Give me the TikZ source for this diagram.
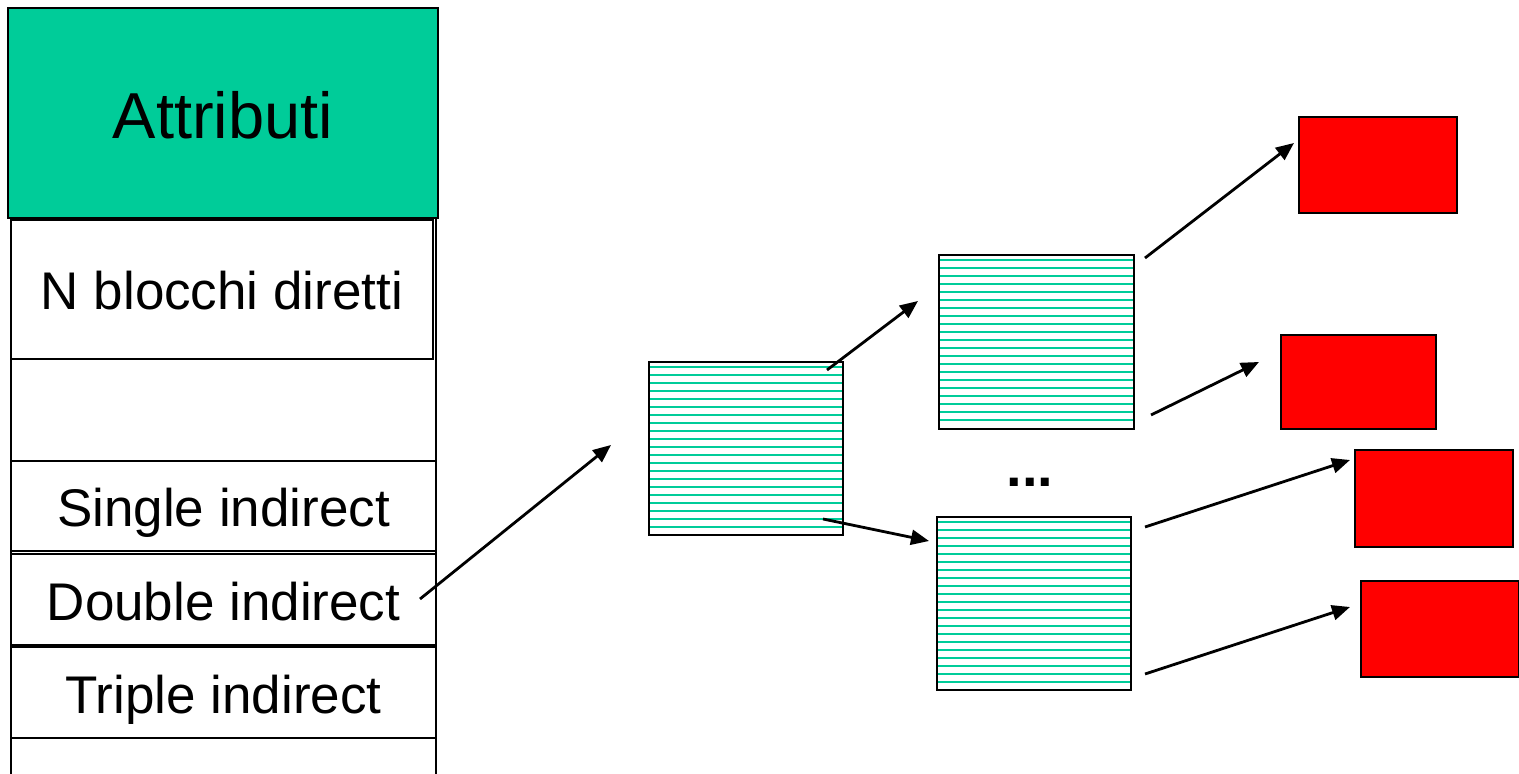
\documentclass[tikz,border=0pt]{standalone}
\usepackage{fontspec}
\setmainfont{Liberation Sans}
\usetikzlibrary{arrows.meta}
\definecolor{attrgreen}{HTML}{00CC99}
\definecolor{blockred}{HTML}{FF0000}
\begin{document}
\begin{tikzpicture}[x=0.5pt,y=-0.5pt,
  cell/.style={draw=black,line width=1pt,inner sep=0pt,fill=white,
    font=\fontsize{26.5}{30}\selectfont,text height=25.8pt,text depth=5.3pt},
  attr/.style={cell,fill=attrgreen,font=\fontsize{32.5}{38}\selectfont,
    text height=31.6pt,text depth=6.5pt},
  colline/.style={draw=black,line width=1pt},
  hatched/.style={draw=black,line width=1pt,fill=white,inner sep=0pt,
    path picture={\foreach \i in {0,...,20}{
      \draw[attrgreen,line width=1.1pt]
        ([yshift={-(2.5+4*\i)*1pt}]path picture bounding box.north west) --
        ([yshift={-(2.5+4*\i)*1pt}]path picture bounding box.north east);}}},
  redbox/.style={draw=black,line width=1pt,fill=blockred,inner sep=0pt},
  ptr/.style={draw=black,line width=1.4pt,-{Triangle[length=9pt,width=7.5pt]}},
  dotsfont/.style={inner sep=0pt,font=\fontsize{28}{32}\selectfont\bfseries}
]
\useasboundingbox (0,0) rectangle (1519,774);

% column outline
\draw[colline] (11,218) -- (11,774);
\draw[colline] (436,218) -- (436,774);

% left column cells
\node[attr,minimum width=215pt,minimum height=105pt] (attr) at (223,113) {Attributi};
\node[cell,minimum width=211pt,minimum height=69.5pt] (direct) at (222,289.5) {N blocchi diretti};
\node[cell,minimum width=212.5pt,minimum height=45pt] (single) at (223.5,506) {Single indirect};
\node[cell,minimum width=212.5pt,minimum height=45.5pt] (double) at (223.5,599.5) {Double indirect};
\node[cell,minimum width=212.5pt,minimum height=45.5pt] (triple) at (223.5,692.5) {Triple indirect};

% index blocks
\node[hatched,minimum width=97pt,minimum height=86.5pt] (h1) at (746,448.5) {};
\node[hatched,minimum width=97.5pt,minimum height=87pt] (h2) at (1036.5,342) {};
\node[hatched,minimum width=97pt,minimum height=86.5pt] (h3) at (1034,603.5) {};

% data blocks
\node[redbox,minimum width=79pt,minimum height=48pt] (r1) at (1378,165) {};
\node[redbox,minimum width=77.5pt,minimum height=47pt] (r2) at (1358,382) {};
\node[redbox,minimum width=79pt,minimum height=48pt] (r3) at (1434,498.5) {};
\node[redbox,minimum width=79pt,minimum height=48pt] (r4) at (1439.5,629) {};

\node[dotsfont,anchor=base] (dots) at (1030,487) {...};

% arrow end points
\coordinate (a0s) at (420,599);   \coordinate (a0e) at (611,445);
\coordinate (a1s) at (827,370);   \coordinate (a1e) at (918,301);
\coordinate (a2s) at (823,519);   \coordinate (a2e) at (929,541);
\coordinate (a3s) at (1145,258);  \coordinate (a3e) at (1294,143);
\coordinate (a4s) at (1151,415);  \coordinate (a4e) at (1259,362);
\coordinate (a5s) at (1145,527);  \coordinate (a5e) at (1350,460);
\coordinate (a6s) at (1145,674);  \coordinate (a6e) at (1350,607);

\draw[ptr] (a0s) -- (a0e);
\draw[ptr] (a1s) -- (a1e);
\draw[ptr] (a2s) -- (a2e);
\draw[ptr] (a3s) -- (a3e);
\draw[ptr] (a4s) -- (a4e);
\draw[ptr] (a5s) -- (a5e);
\draw[ptr] (a6s) -- (a6e);
\end{tikzpicture}
\end{document}
